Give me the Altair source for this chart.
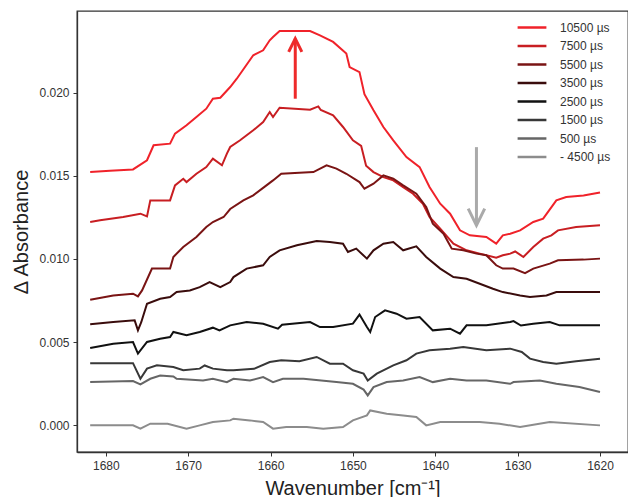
import altair as alt
import pandas as pd

series_order = ["10500 µs", "7500 µs", "5500 µs", "3500 µs", "2500 µs", "1500 µs", "500 µs", "- 4500 µs"]
series_colors = ["#f0222a", "#c81e22", "#7a1414", "#3a0c0c", "#111111", "#383838", "#666666", "#8c8c8c"]

wn_10500 = [1681.9, 1679.5, 1676.7, 1675.0, 1674.2, 1672.2, 1671.6, 1670.2, 1669.0, 1667.8, 1667.0, 1666.1, 1664.9, 1664.1, 1662.1, 1660.9, 1660.1, 1659.7, 1658.9, 1655.2, 1654.0, 1652.4, 1650.8, 1650.4, 1649.2, 1648.6, 1647.5, 1646.3, 1645.1, 1643.5, 1641.9, 1640.7, 1639.4, 1638.2, 1637.0, 1635.8, 1633.8, 1632.6, 1631.8, 1630.9, 1629.7, 1628.1, 1626.9, 1625.3, 1624.1, 1622.0, 1620.0]
ab_10500 = [0.01522, 0.01530, 0.01538, 0.01593, 0.01683, 0.01693, 0.01753, 0.01803, 0.01853, 0.01903, 0.01963, 0.01969, 0.02033, 0.02083, 0.02224, 0.02254, 0.02314, 0.02334, 0.02370, 0.02370, 0.02344, 0.02304, 0.02234, 0.02153, 0.02123, 0.01990, 0.01893, 0.01793, 0.01713, 0.01612, 0.01552, 0.01432, 0.01332, 0.01272, 0.01172, 0.01142, 0.01132, 0.01092, 0.01142, 0.01152, 0.01172, 0.01222, 0.01242, 0.01352, 0.01372, 0.01382, 0.01400]

wn_7500 = [1681.9, 1680.7, 1677.9, 1675.8, 1675.0, 1674.6, 1672.2, 1671.6, 1670.6, 1670.2, 1669.0, 1667.8, 1667.0, 1665.9, 1665.3, 1664.9, 1663.7, 1662.1, 1660.9, 1660.1, 1659.7, 1658.9, 1655.2, 1654.2, 1653.9, 1652.4, 1651.2, 1650.0, 1649.0, 1648.4, 1647.5, 1646.3, 1645.1, 1643.9, 1642.7, 1641.5, 1640.7, 1639.4, 1637.8, 1636.2, 1634.6, 1632.6, 1631.8, 1630.9, 1630.3, 1629.3, 1628.1, 1626.9, 1625.9, 1625.1, 1622.9, 1620.0]
ab_7500 = [0.01222, 0.01232, 0.01252, 0.01272, 0.01256, 0.01352, 0.01352, 0.01442, 0.01482, 0.01462, 0.01512, 0.01552, 0.01603, 0.01563, 0.01633, 0.01673, 0.01713, 0.01773, 0.01823, 0.01883, 0.01853, 0.01909, 0.01897, 0.01917, 0.01895, 0.01863, 0.01793, 0.01713, 0.01680, 0.01560, 0.01522, 0.01492, 0.01472, 0.01432, 0.01392, 0.01332, 0.01252, 0.01182, 0.01092, 0.01052, 0.01032, 0.01008, 0.01022, 0.01032, 0.01045, 0.01012, 0.01072, 0.01122, 0.01142, 0.01172, 0.01192, 0.01202]

wn_5500 = [1681.9, 1679.1, 1676.7, 1676.1, 1675.6, 1674.4, 1672.2, 1671.8, 1670.6, 1669.0, 1667.8, 1667.0, 1665.7, 1664.9, 1663.3, 1662.1, 1660.5, 1659.7, 1658.7, 1656.5, 1654.8, 1653.2, 1652.0, 1650.8, 1649.2, 1648.6, 1647.5, 1646.3, 1645.1, 1643.9, 1642.3, 1641.1, 1640.3, 1639.0, 1638.0, 1636.6, 1635.0, 1633.8, 1632.6, 1631.8, 1630.5, 1629.1, 1628.1, 1626.1, 1625.1, 1622.0, 1620.0]
ab_5500 = [0.00755, 0.00781, 0.00791, 0.00775, 0.00811, 0.00942, 0.00942, 0.01012, 0.01072, 0.01132, 0.01192, 0.01222, 0.01252, 0.01300, 0.01352, 0.01382, 0.01442, 0.01472, 0.01512, 0.01518, 0.01522, 0.01563, 0.01543, 0.01512, 0.01462, 0.01422, 0.01452, 0.01502, 0.01482, 0.01442, 0.01392, 0.01312, 0.01212, 0.01152, 0.01062, 0.01052, 0.01032, 0.01022, 0.00962, 0.00942, 0.00942, 0.00915, 0.00942, 0.00972, 0.00992, 0.00996, 0.01002]

wn_3500 = [1681.9, 1679.1, 1676.5, 1676.1, 1675.7, 1675.0, 1673.4, 1672.2, 1671.4, 1669.8, 1668.6, 1667.4, 1666.1, 1664.9, 1664.5, 1662.9, 1660.9, 1660.1, 1658.9, 1656.8, 1654.4, 1652.8, 1651.2, 1650.6, 1649.6, 1648.3, 1647.5, 1646.3, 1645.1, 1643.9, 1642.3, 1641.1, 1639.4, 1637.8, 1636.2, 1634.6, 1633.0, 1631.8, 1629.7, 1628.5, 1626.5, 1625.3, 1620.0]
ab_3500 = [0.00607, 0.00621, 0.00631, 0.00571, 0.00620, 0.00731, 0.00761, 0.00771, 0.00801, 0.00811, 0.00831, 0.00861, 0.00831, 0.00861, 0.00891, 0.00942, 0.00962, 0.01012, 0.01052, 0.01082, 0.01108, 0.01102, 0.01092, 0.01042, 0.01062, 0.01002, 0.01052, 0.01092, 0.01102, 0.01052, 0.01076, 0.01012, 0.00942, 0.00891, 0.00881, 0.00851, 0.00821, 0.00801, 0.00781, 0.00771, 0.00781, 0.00801, 0.00801]

wn_2500 = [1681.9, 1679.1, 1676.7, 1676.1, 1675.0, 1673.4, 1672.2, 1671.8, 1670.2, 1668.6, 1667.0, 1666.2, 1664.9, 1662.9, 1660.9, 1659.1, 1658.6, 1655.2, 1654.0, 1652.4, 1650.0, 1649.2, 1648.3, 1647.9, 1647.3, 1646.1, 1644.7, 1643.5, 1641.9, 1640.3, 1638.2, 1637.0, 1636.2, 1633.8, 1630.9, 1630.5, 1629.6, 1628.1, 1626.1, 1624.9, 1620.0]
ab_2500 = [0.00465, 0.00491, 0.00501, 0.00431, 0.00501, 0.00521, 0.00531, 0.00561, 0.00541, 0.00561, 0.00587, 0.00570, 0.00601, 0.00621, 0.00611, 0.00581, 0.00605, 0.00621, 0.00591, 0.00591, 0.00611, 0.00666, 0.00591, 0.00561, 0.00651, 0.00691, 0.00671, 0.00641, 0.00651, 0.00571, 0.00581, 0.00551, 0.00601, 0.00601, 0.00621, 0.00627, 0.00600, 0.00611, 0.00621, 0.00601, 0.00601]

wn_1500 = [1681.9, 1676.7, 1675.8, 1675.0, 1673.8, 1671.8, 1670.6, 1668.6, 1668.0, 1667.0, 1665.3, 1664.5, 1662.0, 1660.1, 1658.7, 1656.5, 1654.4, 1652.8, 1651.2, 1650.0, 1648.7, 1648.2, 1647.1, 1645.1, 1643.5, 1642.3, 1640.7, 1638.2, 1636.6, 1633.8, 1630.9, 1629.5, 1628.5, 1626.9, 1625.3, 1622.9, 1620.0]
ab_1500 = [0.00374, 0.00374, 0.00280, 0.00341, 0.00361, 0.00351, 0.00331, 0.00341, 0.00360, 0.00341, 0.00331, 0.00331, 0.00340, 0.00381, 0.00391, 0.00385, 0.00411, 0.00371, 0.00371, 0.00331, 0.00311, 0.00270, 0.00311, 0.00361, 0.00391, 0.00431, 0.00451, 0.00461, 0.00471, 0.00451, 0.00461, 0.00441, 0.00401, 0.00381, 0.00371, 0.00386, 0.00401]

wn_500 = [1681.9, 1676.7, 1675.8, 1674.6, 1673.4, 1671.8, 1671.4, 1668.2, 1667.0, 1665.3, 1664.5, 1662.5, 1660.9, 1659.7, 1658.5, 1656.0, 1652.0, 1650.0, 1648.7, 1648.2, 1647.5, 1645.9, 1643.9, 1641.9, 1640.3, 1638.2, 1636.2, 1633.8, 1630.9, 1630.5, 1627.3, 1625.3, 1622.5, 1620.0]
ab_500 = [0.00260, 0.00266, 0.00246, 0.00280, 0.00300, 0.00294, 0.00280, 0.00270, 0.00280, 0.00260, 0.00280, 0.00270, 0.00290, 0.00260, 0.00280, 0.00280, 0.00260, 0.00250, 0.00215, 0.00180, 0.00230, 0.00260, 0.00270, 0.00290, 0.00260, 0.00280, 0.00270, 0.00270, 0.00250, 0.00260, 0.00270, 0.00250, 0.00230, 0.00200]

wn_m4500 = [1681.9, 1676.7, 1675.8, 1674.6, 1672.5, 1670.2, 1668.6, 1667.0, 1664.9, 1664.5, 1662.5, 1660.9, 1659.7, 1658.1, 1655.6, 1653.6, 1651.2, 1650.0, 1648.3, 1647.9, 1645.9, 1643.9, 1642.3, 1641.1, 1639.4, 1634.6, 1632.2, 1629.7, 1626.1, 1620.0]
ab_m4500 = [0.0, 0.0, -0.0002, 0.0001, 0.0001, -0.0002, 0.0, 0.0002, 0.0003, 0.0004, 0.0003, 0.0002, -0.0002, -0.0001, -0.0001, -0.0002, -0.0001, 0.0003, 0.0006, 0.0009, 0.0007, 0.0006, 0.0005, 0.0, 0.0002, 0.0002, 0.0001, -0.0001, 0.0002, 0.0]

# annotation arrows (shaft + head polylines)
arrow_piece = ["r_shaft", "r_shaft", "r_head", "r_head", "r_head", "g_shaft", "g_shaft", "g_head", "g_head", "g_head"]
arrow_wn = [1657.0, 1657.0, 1657.8, 1657.0, 1656.2, 1635.0, 1635.0, 1636.0, 1635.0, 1634.0]
arrow_ab = [0.01963, 0.02324, 0.02244, 0.02324, 0.02244, 0.01672, 0.01202, 0.01302, 0.01202, 0.01302]
arrow_order = [0, 1, 0, 1, 2, 0, 1, 0, 1, 2]

x_ticks = [1620, 1630, 1640, 1650, 1660, 1670, 1680]
y_ticks = [0.0, 0.005, 0.010, 0.015, 0.020]

pairs = [(wn_10500, ab_10500), (wn_7500, ab_7500), (wn_5500, ab_5500), (wn_3500, ab_3500),
         (wn_2500, ab_2500), (wn_1500, ab_1500), (wn_500, ab_500), (wn_m4500, ab_m4500)]
rows = []
for name, (xs, ys) in zip(series_order, pairs):
    for i, (a, b) in enumerate(zip(xs, ys)):
        rows.append({"series": name, "wn": a, "ab": b, "i": i})
df = pd.DataFrame(rows)

adf = pd.DataFrame({"piece": arrow_piece, "wn": arrow_wn, "ab": arrow_ab, "o": arrow_order})
adf["kind"] = adf["piece"].str[0]

FONT = "Liberation Sans"
xscale = alt.Scale(domain=[1616.6, 1683.5], reverse=True, nice=False, zero=False)
yscale = alt.Scale(domain=[-0.0016, 0.0249], nice=False, zero=False)

xax = alt.Axis(values=x_ticks, format="d", title="Wavenumber [cm⁻¹]", titleY=36, titleBaseline="middle")
yax = alt.Axis(values=y_ticks, format=".3f", title="Δ Absorbance", titleX=-56, titleBaseline="middle")

lines = alt.Chart(df).mark_line(strokeWidth=2, interpolate="linear").encode(
    x=alt.X("wn:Q", scale=xscale, axis=xax),
    y=alt.Y("ab:Q", scale=yscale, axis=yax),
    color=alt.Color("series:N", sort=series_order,
                    scale=alt.Scale(domain=series_order, range=series_colors),
                    legend=alt.Legend(title=None, orient="none", legendX=445.5, legendY=7,
                                      symbolType="M-1.8,0L1.8,0", symbolSize=256,
                                      symbolStrokeWidth=2.5, labelOffset=18.5, rowPadding=2.5,
                                      padding=0, labelFont=FONT, labelFontSize=12,
                                      labelColor="#333333")),
    order=alt.Order("i:Q"),
)

arrows = alt.Chart(adf).mark_line(strokeWidth=3).encode(
    x=alt.X("wn:Q", scale=xscale),
    y=alt.Y("ab:Q", scale=yscale),
    detail="piece:N",
    order=alt.Order("o:Q"),
    color=alt.Color("kind:N", scale=alt.Scale(domain=["r", "g"], range=["#ee2a2a", "#aaaaaa"]), legend=None),
)

chart = alt.layer(lines, arrows).resolve_scale(color="independent").properties(
    width=551, height=441,
    autosize=alt.AutoSizeParams(type="none"),
    padding={"left": 69, "top": 3, "right": 0, "bottom": 45},
).configure_view(
    stroke="#333333", strokeWidth=1.3
).configure_axis(
    grid=False, domainColor="#333333", domainWidth=1.3, tickColor="#333333", tickSize=4,
    tickWidth=1, labelFont=FONT, labelFontSize=12, labelColor="#333333", labelPadding=4,
    titleFont=FONT, titleFontSize=20, titleFontWeight="normal", titleColor="#222222"
)

chart.save("out.html", embed_options={"renderer": "svg", "actions": False})
